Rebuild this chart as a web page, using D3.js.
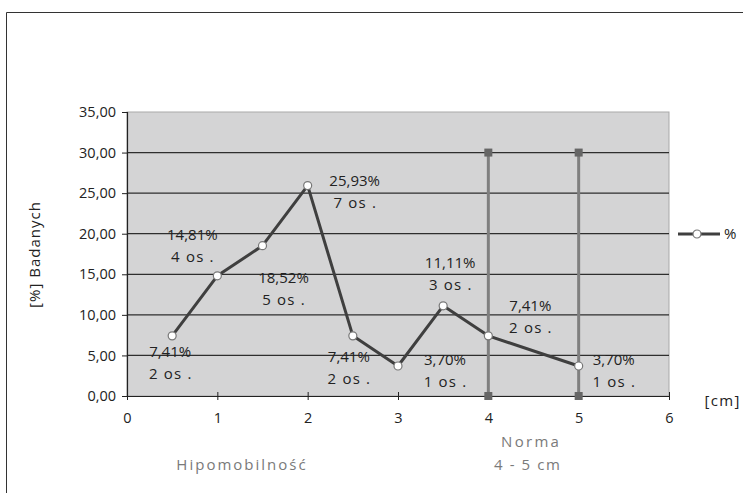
<!DOCTYPE html>
<html>
<head>
<meta charset="utf-8">
<script src="https://cdn.jsdelivr.net/npm/d3@7"></script>
<style>
  html, body { margin: 0; padding: 0; background: #fff; }
  svg { display: block; font-family: "Open Sans", "Noto Sans", sans-serif; }
</style>
</head>
<body>
<svg id="chart" width="743" height="493"></svg>
<script>
// Shoulder mobility measurement [cm] vs. share of subjects [%]
const xValues = [0.5, 1, 1.5, 2, 2.5, 3, 3.5, 4, 5];
const percentValues = [7.41, 14.81, 18.52, 25.93, 7.41, 3.70, 11.11, 7.41, 3.70];
const personCounts = [2, 4, 5, 7, 2, 1, 3, 2, 1];
const xTicks = [0, 1, 2, 3, 4, 5, 6];
const yTicks = [0, 5, 10, 15, 20, 25, 30, 35];
const normBounds = [4, 5];      // normal range, cm
const normTop = 30;             // height of the normal-range markers
const seriesName = "%";

// label offsets (px) from each point to the centre of the first label line
const labelOffsets = [
  [-2, 16], [-25, -41], [21, 32], [47, -5], [-4, 21],
  [47, -6], [7, -43], [42, -30], [35, -6]
];

const svg = d3.select("#chart");
const fmt = v => d3.format(".2f")(v).replace(".", ",");

const plotL = 127, plotR = 669, plotT = 112, plotB = 396;
const x = d3.scaleLinear().domain([0, 6]).range([plotL, plotR]);
const y = d3.scaleLinear().domain([0, 35]).range([plotB, plotT]);

// centred text that keeps its letter-spacing symmetric
function spacedText(parent, cx, baseline, str, spacing, size, fill) {
  const t = parent.append("text").attr("y", baseline).attr("font-size", size)
    .attr("fill", fill).attr("letter-spacing", spacing).attr("text-anchor", "start").text(str);
  const w = t.node().getComputedTextLength() - spacing;
  t.attr("x", cx - w / 2);
  return t;
}

// outer frame
svg.append("path").attr("d", "M6.5,493 V12.5 H743")
  .attr("fill", "none").attr("stroke", "#333").attr("stroke-width", 1);

// plot background
svg.append("rect").attr("x", plotL).attr("y", plotT)
  .attr("width", plotR - plotL).attr("height", plotB - plotT)
  .attr("fill", "#d4d4d5").attr("stroke", "#a9a9a9").attr("stroke-width", 1);

// horizontal gridlines
svg.append("g").selectAll("line").data(yTicks.filter(t => t > 0 && t < 35)).join("line")
  .attr("x1", plotL).attr("x2", plotR)
  .attr("y1", d => y(d)).attr("y2", d => y(d))
  .attr("stroke", "#2e2e2e").attr("stroke-width", 1.3);

// y axis
const yAxis = svg.append("g").attr("transform", `translate(${plotL},0)`)
  .call(d3.axisLeft(y).tickValues(yTicks).tickFormat(fmt).tickSize(5).tickPadding(6));
yAxis.select(".domain").attr("stroke", "#222").attr("stroke-width", 1.2);
yAxis.selectAll(".tick line").attr("stroke", "#222");
yAxis.selectAll("text").attr("font-size", 14.5).attr("fill", "#222")
  .attr("font-family", "Open Sans, sans-serif");

// x axis with ticks crossing the baseline
const xAxis = svg.append("g").attr("transform", `translate(0,${plotB})`)
  .call(d3.axisBottom(x).tickValues(xTicks).tickFormat(d3.format("d")).tickSizeInner(4).tickSizeOuter(0).tickPadding(13));
xAxis.select(".domain").attr("stroke", "#222").attr("stroke-width", 1.2);
xAxis.selectAll(".tick line").attr("y1", -4).attr("y2", 4).attr("stroke", "#222");
xAxis.selectAll("text").attr("font-size", 14.5).attr("fill", "#222")
  .attr("font-family", "Open Sans, sans-serif");

// normal-range markers
const norm = svg.append("g");
norm.selectAll("line").data(normBounds).join("line")
  .attr("x1", d => x(d)).attr("x2", d => x(d))
  .attr("y1", y(0)).attr("y2", y(normTop))
  .attr("stroke", "#7f7f7f").attr("stroke-width", 3);
normBounds.forEach(b => {
  [0, normTop].forEach(v => {
    norm.append("rect").attr("x", x(b) - 4).attr("y", y(v) - 4)
      .attr("width", 8).attr("height", 8).attr("fill", "#666");
  });
});

// data line
const pts = xValues.map((v, i) => ({ x: v, y: percentValues[i], n: personCounts[i], off: labelOffsets[i] }));
svg.append("path").datum(pts)
  .attr("d", d3.line().x(d => x(d.x)).y(d => y(d.y)))
  .attr("fill", "none").attr("stroke", "#3f3f3f").attr("stroke-width", 3)
  .attr("stroke-linejoin", "round");

svg.append("g").selectAll("circle").data(pts).join("circle")
  .attr("cx", d => x(d.x)).attr("cy", d => y(d.y)).attr("r", 4)
  .attr("fill", "#fff").attr("stroke", "#777").attr("stroke-width", 1.2);

// value labels: percentage and number of persons
const lab = svg.append("g");
pts.forEach(d => {
  const cx = x(d.x) + d.off[0], cy = y(d.y) + d.off[1];
  spacedText(lab, cx, cy + 5.5, fmt(d.y) + "%", 0, 15, "#222");
  spacedText(lab, cx, cy + 27, d.n + " os .", 1.2, 15, "#222");
});

// axis titles
spacedText(svg.append("g").attr("transform", "translate(40,255) rotate(-90)"),
  0, 0, "[%] Badanych", 1, 15, "#222");
spacedText(svg, 722, 406, "[cm]", 1.4, 15, "#222");

// range captions
const cap = svg.append("g");
spacedText(cap, 530, 447, "Norma", 2.3, 15, "#7a7a7a");
spacedText(cap, 527, 470, "4 - 5 cm", 1.6, 15, "#7a7a7a");
spacedText(cap, 241, 470, "Hipomobilność", 2, 15, "#7a7a7a");

// legend
const lg = svg.append("g").attr("transform", "translate(678,234)");
lg.append("line").attr("x1", 0).attr("x2", 42).attr("stroke", "#3f3f3f").attr("stroke-width", 3);
lg.append("circle").attr("cx", 19).attr("r", 4).attr("fill", "#fff").attr("stroke", "#777").attr("stroke-width", 1.2);
lg.append("text").attr("x", 46).attr("y", 5).attr("font-size", 15).attr("fill", "#222").text(seriesName);
</script>
</body>
</html>
